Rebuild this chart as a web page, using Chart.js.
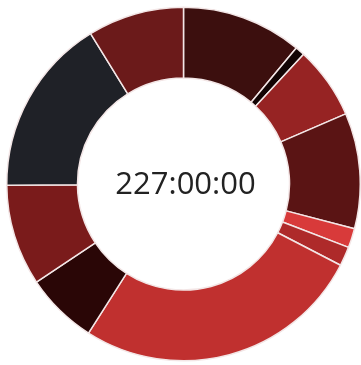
<!DOCTYPE html>
<html>
<head>
<meta charset="utf-8">
<script src="https://cdn.jsdelivr.net/npm/chart.js@4/dist/chart.umd.min.js"></script>
<style>
  html, body { margin: 0; padding: 0; background: #fff; }
  #wrap { width: 361px; height: 365px; position: relative; }
</style>
</head>
<body>
<div id="wrap"><canvas id="tempo_por_item"></canvas></div>
<script>
// horas por item (total 227)
var labels = ['A', 'B', 'C', 'D', 'E', 'F', 'G', 'H', 'I', 'J', 'K'];
var horas = [25, 2, 15, 24, 4, 4, 60, 15, 21, 37, 20];
var cores = ['#3c0f0e', '#120404', '#962323', '#5a1414', '#d83a3a', '#ae2a2a',
             '#c0302f', '#2a0606', '#7a1b1b', '#1f2127', '#6b1a1a'];
var totalTexto = '227:00:00';

var ctx = document.getElementById('tempo_por_item').getContext('2d');

// texto no meio do donut
var textoCentro = {
  id: 'textoCentro',
  afterDraw: function(chart) {
    var meta = chart.getDatasetMeta(0).data[0];
    var c = chart.ctx;
    c.save();
    c.font = '31px "Open Sans"';
    c.fillStyle = '#222';
    c.textAlign = 'center';
    c.textBaseline = 'middle';
    c.fillText(totalTexto, meta.x + 2, meta.y + 1);
    c.restore();
  }
};

var grafico = new Chart(ctx, {
  type: 'doughnut',
  data: {
    labels: labels,
    datasets: [{
      data: horas,
      backgroundColor: cores,
      borderColor: '#f3e6e6',
      borderWidth: 1.5
    }]
  },
  options: {
    responsive: true,
    maintainAspectRatio: false,
    animation: false,
    cutout: '60%',
    layout: { padding: { left: 6, right: 0, top: 6, bottom: 3 } },
    plugins: {
      legend: { display: false },
      tooltip: { enabled: false }
    }
  },
  plugins: [textoCentro]
});
</script>
</body>
</html>
